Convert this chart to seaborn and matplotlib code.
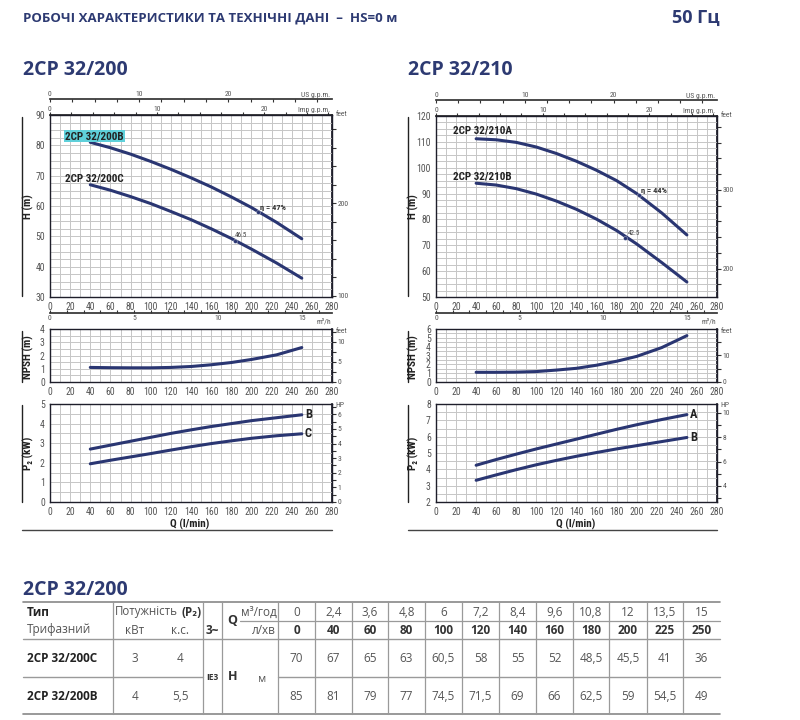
import matplotlib
matplotlib.use('Agg')
import numpy as np
import pandas as pd
import matplotlib.pyplot as plt
import seaborn as sns
from matplotlib.ticker import MultipleLocator
from matplotlib.lines import Line2D

# ---------------- data ----------------
Q = [40, 60, 80, 100, 120, 140, 160, 180, 200, 225, 250]
H_200C = [67, 65.2, 63.1, 60.8, 58.2, 55.5, 52.5, 49.3, 45.8, 41.2, 36.2]
H_200B = [81, 79.2, 77.1, 74.7, 72.1, 69.3, 66.3, 63, 59.5, 54.6, 49.2]
H_210A = [111.2, 110.8, 109.8, 108, 105.5, 102.5, 99, 95, 90, 82.5, 74]
H_210B = [94, 93.3, 91.9, 89.8, 87.1, 83.9, 80.1, 75.7, 70.5, 63.3, 55.8]
NPSH_200 = [1.1, 1.08, 1.07, 1.07, 1.1, 1.17, 1.3, 1.47, 1.7, 2.05, 2.6]
NPSH_210 = [1.1, 1.1, 1.12, 1.18, 1.35, 1.55, 1.9, 2.35, 2.9, 3.9, 5.25]
P2_200B = [2.7, 2.9, 3.1, 3.3, 3.5, 3.68, 3.85, 4.0, 4.15, 4.3, 4.45]
P2_200C = [1.95, 2.13, 2.3, 2.47, 2.65, 2.82, 2.98, 3.12, 3.25, 3.38, 3.48]
P2_210A = [4.25, 4.6, 4.93, 5.25, 5.55, 5.85, 6.15, 6.45, 6.73, 7.05, 7.35]
P2_210B = [3.33, 3.66, 3.98, 4.28, 4.55, 4.8, 5.03, 5.25, 5.45, 5.7, 5.95]

# efficiency points (Q, H, label, label Q)
eff_200 = [(207, 58.1, 'η = 47%', 209), (184, 48.6, '46.5', 183)]
eff_210 = [(202, 89.6, 'η = 44%', 204), (188, 73.0, '42.5', 191)]

# table
tbl_m3h = ['0', '2,4', '3,6', '4,8', '6', '7,2', '8,4', '9,6', '10,8', '12', '13,5', '15']
tbl_lmin = ['0', '40', '60', '80', '100', '120', '140', '160', '180', '200', '225', '250']
tbl_models = ['2CP 32/200C', '2CP 32/200B']
tbl_kw = ['3', '4']
tbl_hp = ['4', '5,5']
tbl_H = [['70', '67', '65', '63', '60,5', '58', '55', '52', '48,5', '45,5', '41', '36'],
         ['85', '81', '79', '77', '74,5', '71,5', '69', '66', '62,5', '59', '54,5', '49']]

# ---------------- style ----------------
sns.set_theme(style='white')
NARROW = ['Liberation Sans Narrow', 'Roboto Condensed', 'DejaVu Sans']
OPEN = ['Open Sans', 'DejaVu Sans']
plt.rcParams['font.family'] = NARROW

NAVY = '#2d3a72'
CURVE = '#2a3672'
GRID = '#c6c6c6'
TXT = '#555555'

W, HH = 800, 720
fig = plt.figure(figsize=(8, 7.2), dpi=100)


def rect(l, t, r, b):
    return [l / W, 1 - b / HH, (r - l) / W, (b - t) / HH]


def T(x, y, s, **kw):
    return fig.text(x / W, 1 - y / HH, s, **kw)


def L(x0, y0, x1, y1, **kw):
    fig.add_artist(Line2D([x0 / W, x1 / W], [1 - y0 / HH, 1 - y1 / HH],
                          transform=fig.transFigure, **kw))


def style_ax(ax, ylim, ymaj, ymin):
    ax.set_xlim(0, 280)
    ax.set_ylim(*ylim)
    ax.xaxis.set_major_locator(MultipleLocator(20))
    ax.xaxis.set_minor_locator(MultipleLocator(10))
    ax.yaxis.set_major_locator(MultipleLocator(ymaj))
    ax.yaxis.set_minor_locator(MultipleLocator(ymin))
    ax.grid(True, which='both', color=GRID, lw=0.7)
    ax.set_axisbelow(True)
    for s in ax.spines.values():
        s.set_color('#1e1e2a')
        s.set_linewidth(1.0)
    ax.tick_params(which='major', direction='out', length=2.5, width=0.8,
                   labelsize=7, labelcolor=TXT, color='#333', pad=1.2)
    ax.tick_params(which='minor', length=0)
    ax.set_xlabel('')
    ax.set_ylabel('')


def right_axis(ax, factor, ticks, labeled, unit):
    sec = ax.secondary_yaxis('right', functions=(lambda y: y * factor, lambda f: f / factor))
    sec.set_yticks(ticks, labels=[(f'{t:g}' if t in labeled else '') for t in ticks])
    sec.tick_params(direction='out', length=3, width=0.8, labelsize=5.5,
                    labelcolor=TXT, color='#333', pad=1)
    sec.spines['right'].set_color('#1e1e2a')
    ax.text(1.012, 1.02, unit, transform=ax.transAxes, fontsize=5.5, color=TXT,
            ha='left', va='top')


def top_axes(ax):
    imp = ax.secondary_xaxis('top', functions=(lambda q: q / 10.63, lambda g: g * 10.63))
    imp.set_xticks([0, 10, 20])
    imp.xaxis.set_minor_locator(MultipleLocator(2))
    imp.tick_params(which='both', direction='out', length=2, width=0.8,
                    labelsize=5.5, labelcolor=TXT, color='#333', pad=0.5)
    us = ax.secondary_xaxis(1.088, functions=(lambda q: q / 8.85, lambda g: g * 8.85))
    us.set_xticks([0, 10, 20])
    us.xaxis.set_minor_locator(MultipleLocator(2.5))
    us.tick_params(which='both', direction='in', length=2, width=0.8,
                   labelsize=5.5, labelcolor=TXT, color='#333', pad=1.5)
    us.spines['top'].set_color('#333')
    ax.text(0.995, 1.095, 'US g.p.m.', transform=ax.transAxes, fontsize=5.5,
            color=TXT, ha='right', va='bottom')
    ax.text(0.995, 1.012, 'Imp g.p.m.', transform=ax.transAxes, fontsize=5.5,
            color=TXT, ha='right', va='bottom')
    m3 = ax.secondary_xaxis(-0.088, functions=(lambda q: q * 0.06, lambda m: m / 0.06))
    m3.set_xticks([0, 5, 10, 15])
    m3.xaxis.set_minor_locator(MultipleLocator(1))
    m3.tick_params(which='both', direction='in', length=2, width=0.8,
                   labelsize=5.5, labelcolor=TXT, color='#333', pad=1.5)
    m3.spines['bottom'].set_color('#333')
    ax.text(0.972, -0.115, 'm³/h', transform=ax.transAxes, fontsize=5.5,
            color=TXT, ha='center', va='top')


def curve(ax, y):
    df = pd.DataFrame({'Q': Q, 'v': y})
    sns.lineplot(data=df, x='Q', y='v', ax=ax, color=CURVE, lw=2.2, legend=False,
                 solid_joinstyle='round', solid_capstyle='round')


for side in ['L', 'R']:
    if side == 'L':
        lx, rx = 50, 332
        Hs = [(H_200B, '2CP 32/200B', 136, True), (H_200C, '2CP 32/200C', 178, False)]
        Hlim, feet_t, feet_l = (30, 90), list(range(100, 300, 20)), [100, 200]
        Hy_top = 115
        npsh, nlim, nft, nfl = NPSH_200, (0, 4), [0, 2.5, 5, 7.5, 10, 12.5], [0, 5, 10]
        p2 = [(P2_200B, 'B'), (P2_200C, 'C')]
        plim, hpt, hpl = (0, 5), list(np.arange(0, 6.6, 0.5)), [0, 1, 2, 3, 4, 5, 6]
        effs = eff_200
        ylx, linex = 28, 22
    else:
        lx, rx = 436, 717
        Hs = [(H_210A, '2CP 32/210A', 131, False), (H_210B, '2CP 32/210B', 177, False)]
        Hlim, feet_t, feet_l = (50, 120), list(range(180, 400, 20)), [200, 300]
        Hy_top = 116
        npsh, nlim, nft, nfl = NPSH_210, (0, 6), [0, 5, 10, 15], [0, 10]
        p2 = [(P2_210A, 'A'), (P2_210B, 'B')]
        plim, hpt, hpl = (2, 8), list(range(3, 11)), [4, 6, 8, 10]
        effs = eff_210
        ylx, linex = 413, 408

    # H axes
    axH = fig.add_axes(rect(lx, Hy_top, rx, 297))
    for y, lab, ty, hl in Hs:
        curve(axH, y)
        kw = dict(fontsize=8, fontweight='bold', color='#222', ha='left', va='center')
        if hl:
            kw['bbox'] = dict(boxstyle='square,pad=0.12', fc='#5fd0da', ec='none')
        T(lx + 15 if side == 'L' else lx + 17, ty, lab, **kw)
    sns.scatterplot(x=[e[0] for e in effs], y=[e[1] for e in effs], ax=axH,
                    color=CURVE, s=8, legend=False, zorder=5)
    for i, (eq, eh, et, lq) in enumerate(effs):
        if i == 0:
            axH.text(lq, eh + 1.5, et, fontsize=6, fontweight='bold', color='#333',
                     ha='left', va='center')
        else:
            axH.text(lq, eh + 1.6, et, fontsize=5, color='#444', ha='left', va='center')
    style_ax(axH, Hlim, 10, 2.5)
    right_axis(axH, 3.281, feet_t, feet_l, 'feet')
    top_axes(axH)

    # NPSH axes
    axN = fig.add_axes(rect(lx, 329, rx, 382))
    curve(axN, npsh)
    style_ax(axN, nlim, 1, 0.5)
    right_axis(axN, 3.281, nft, nfl, 'feet')

    # P2 axes
    axP = fig.add_axes(rect(lx, 404, rx, 502))
    for y, lab in p2:
        curve(axP, y)
        axP.text(253, y[-1], lab, fontsize=9, fontweight='bold', color='#222',
                 ha='left', va='center')
    style_ax(axP, plim, 1, 0.5)
    right_axis(axP, 1.341, hpt, hpl, 'HP')

    # y labels with side bars
    for txt, yc, y0, y1 in [('H (m)', 207, 117, 296), ('NPSH (m)', 357, 331, 382),
                            ('P₂ (kW)', 453, 405, 502)]:
        T(ylx, yc, txt, rotation=90, fontsize=8, fontweight='bold', color='#222',
          ha='center', va='center', family=NARROW)
        L(linex, y0, linex, y1, color='#222', lw=1.0)

    # x label and underline
    T((lx + rx) / 2 - 1, 524, 'Q (l/min)', fontsize=8, fontweight='bold', color='#222',
      ha='center', va='center')
    L(linex, 529.5, rx, 529.5, color='#444', lw=1.0)

# ---------------- titles ----------------
T(23, 18, 'РОБОЧІ ХАРАКТЕРИСТИКИ ТА ТЕХНІЧНІ ДАНІ  –  HS=0 м', fontsize=9.5,
  fontweight='bold', color=NAVY, ha='left', va='center', family=OPEN)
T(720, 18, '50 Гц', fontsize=13, fontweight='bold', color=NAVY, ha='right',
  va='center', family=OPEN)
T(23, 70, '2CP 32/200', fontsize=14, fontweight='bold', color=NAVY, ha='left',
  va='center', family=OPEN)
T(408, 70, '2CP 32/210', fontsize=14, fontweight='bold', color=NAVY, ha='left',
  va='center', family=OPEN)
T(23, 590, '2CP 32/200', fontsize=14, fontweight='bold', color=NAVY, ha='left',
  va='center', family=OPEN)

# ---------------- table ----------------
LC = '#9a9a9a'
L(23, 602, 720, 602, color='#888', lw=1.2)
L(240, 621, 720, 621, color=LC, lw=0.9)
L(23, 639, 720, 639, color=LC, lw=1.0)
L(23, 677, 203, 677, color=LC, lw=1.0)
L(278, 677, 720, 677, color=LC, lw=1.0)
L(23, 714, 720, 714, color='#888', lw=1.2)
col_edges = [278, 315, 352, 388, 425, 462, 499, 536, 573, 609, 647, 683, 720]
for x in [113, 203, 222] + col_edges[:-1]:
    L(x, 602, x, 714, color=LC, lw=0.9)

tk = dict(family=OPEN, va='center')
T(27, 612, 'Тип', fontsize=8.5, fontweight='bold', color='#222', ha='left', **tk)
T(27, 630, 'Трифазний', fontsize=8.5, color='#555', ha='left', **tk)
T(115, 612, 'Потужність', fontsize=8.3, color='#555', ha='left', **tk)
T(181, 612, '(P₂)', fontsize=8.3, fontweight='bold', color='#333', ha='left', **tk)
T(135, 630, 'кВт', fontsize=8.5, color='#555', ha='center', **tk)
T(180, 630, 'к.с.', fontsize=8.5, color='#555', ha='center', **tk)
T(212, 630, '3~', fontsize=8.5, fontweight='bold', color='#333', ha='center', **tk)
T(232, 621, 'Q', fontsize=9, fontweight='bold', color='#333', ha='center', **tk)
T(259, 612, 'м³/год', fontsize=8.5, color='#555', ha='center', **tk)
T(264, 630, 'л/хв', fontsize=8.5, color='#555', ha='center', **tk)
T(212, 677, 'IE3', fontsize=6, fontweight='bold', color='#333', ha='center', **tk)
T(233, 677, 'H', fontsize=9, fontweight='bold', color='#333', ha='center', **tk)
T(262, 680, 'м', fontsize=8, color='#555', ha='center', **tk)

centers = [(col_edges[i] + col_edges[i + 1]) / 2 for i in range(12)]
for c, a, b in zip(centers, tbl_m3h, tbl_lmin):
    T(c, 612, a, fontsize=8.5, color='#555', ha='center', **tk)
    T(c, 630, b, fontsize=8.5, fontweight='bold', color='#333', ha='center', **tk)

for r, yrow in enumerate([658, 696]):
    T(27, yrow, tbl_models[r], fontsize=8.5, fontweight='bold', color='#222', ha='left', **tk)
    T(135, yrow, tbl_kw[r], fontsize=8.5, color='#555', ha='center', **tk)
    T(180, yrow, tbl_hp[r], fontsize=8.5, color='#555', ha='center', **tk)
    for c, v in zip(centers, tbl_H[r]):
        T(c, yrow, v, fontsize=8.5, color='#555', ha='center', **tk)

fig.savefig('out.png', dpi=100, facecolor='white')
